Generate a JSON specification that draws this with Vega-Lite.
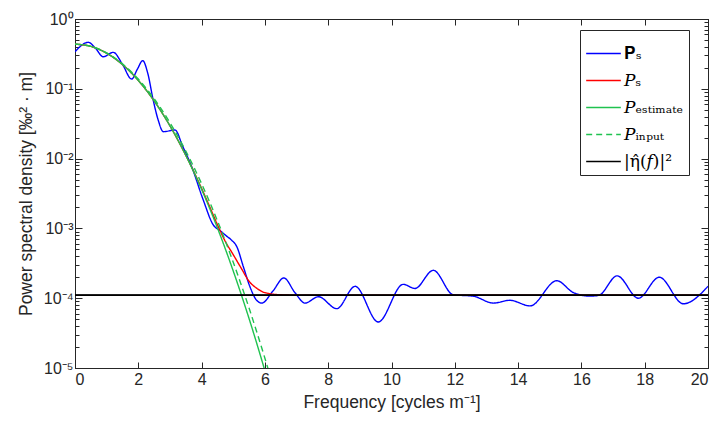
{
  "$schema": "https://vega.github.io/schema/vega-lite/v6.json",
  "autosize": {"type": "none"},
  "width": 633,
  "height": 349,
  "padding": {"left": 75, "top": 19, "right": 10, "bottom": 57},
  "config": {
    "view": {"stroke": "#262626", "strokeWidth": 1},
    "font": "Liberation Sans",
    "axis": {"labelFont": "Liberation Sans", "titleFont": "Liberation Sans", "labelColor": "#262626", "titleColor": "#262626", "domainColor": "#262626", "tickColor": "#262626", "grid": false, "titleFontWeight": "normal", "labelFontSize": 16, "titleFontSize": 17.5},
    "legend": {
      "title": null, "orient": "none", "legendX": 505, "legendY": 11,
      "symbolType": "stroke", "symbolSize": 1200, "symbolStrokeWidth": 1.5,
      "labelFont": "DejaVu Serif", "labelFontSize": 17, "labelColor": "#000000",
      "strokeColor": "#262626", "fillColor": "#FFFFFF", "padding": 5, "rowPadding": -8, "cornerRadius": 0, "labelOffset": 2
    }
  },
  "datasets": {
    "curves": [
      {"s": "𝐏ₛ", "f": 0.0, "p": 0.339},
      {"s": "𝐏ₛ", "f": 0.42, "p": 0.4634},
      {"s": "𝐏ₛ", "f": 0.65, "p": 0.38},
      {"s": "𝐏ₛ", "f": 0.89, "p": 0.288},
      {"s": "𝐏ₛ", "f": 1.21, "p": 0.333},
      {"s": "𝐏ₛ", "f": 1.5, "p": 0.224},
      {"s": "𝐏ₛ", "f": 1.79, "p": 0.138},
      {"s": "𝐏ₛ", "f": 1.97, "p": 0.191},
      {"s": "𝐏ₛ", "f": 2.14, "p": 0.253},
      {"s": "𝐏ₛ", "f": 2.3, "p": 0.166},
      {"s": "𝐏ₛ", "f": 2.47, "p": 0.0692},
      {"s": "𝐏ₛ", "f": 2.63, "p": 0.0355},
      {"s": "𝐏ₛ", "f": 2.79, "p": 0.0243},
      {"s": "𝐏ₛ", "f": 3.16, "p": 0.0257},
      {"s": "𝐏ₛ", "f": 3.4, "p": 0.0151},
      {"s": "𝐏ₛ", "f": 3.69, "p": 0.00759},
      {"s": "𝐏ₛ", "f": 4.05, "p": 0.00257},
      {"s": "𝐏ₛ", "f": 4.37, "p": 0.00112},
      {"s": "𝐏ₛ", "f": 4.58, "p": 0.000933},
      {"s": "𝐏ₛ", "f": 4.79, "p": 0.000776},
      {"s": "𝐏ₛ", "f": 4.95, "p": 0.000676},
      {"s": "𝐏ₛ", "f": 5.11, "p": 0.00055},
      {"s": "𝐏ₛ", "f": 5.32, "p": 0.000282},
      {"s": "𝐏ₛ", "f": 5.53, "p": 0.000145},
      {"s": "𝐏ₛ", "f": 5.74, "p": 0.0000933},
      {"s": "𝐏ₛ", "f": 5.9, "p": 0.0000851},
      {"s": "𝐏ₛ", "f": 6.25, "p": 0.000126},
      {"s": "𝐏ₛ", "f": 6.6, "p": 0.000195},
      {"s": "𝐏ₛ", "f": 6.95, "p": 0.00012},
      {"s": "𝐏ₛ", "f": 7.27, "p": 0.0000851},
      {"s": "𝐏ₛ", "f": 7.69, "p": 0.000105},
      {"s": "𝐏ₛ", "f": 8.27, "p": 0.0000708},
      {"s": "𝐏ₛ", "f": 8.85, "p": 0.000148},
      {"s": "𝐏ₛ", "f": 9.58, "p": 0.0000457},
      {"s": "𝐏ₛ", "f": 10.37, "p": 0.000158},
      {"s": "𝐏ₛ", "f": 10.74, "p": 0.000138},
      {"s": "𝐏ₛ", "f": 11.32, "p": 0.000251},
      {"s": "𝐏ₛ", "f": 11.95, "p": 0.000112},
      {"s": "𝐏ₛ", "f": 12.58, "p": 0.000107},
      {"s": "𝐏ₛ", "f": 13.22, "p": 0.0000851},
      {"s": "𝐏ₛ", "f": 13.74, "p": 0.0000933},
      {"s": "𝐏ₛ", "f": 14.38, "p": 0.0000776},
      {"s": "𝐏ₛ", "f": 15.22, "p": 0.000178},
      {"s": "𝐏ₛ", "f": 15.75, "p": 0.00012},
      {"s": "𝐏ₛ", "f": 16.27, "p": 0.000107},
      {"s": "𝐏ₛ", "f": 16.55, "p": 0.00011},
      {"s": "𝐏ₛ", "f": 17.13, "p": 0.000209},
      {"s": "𝐏ₛ", "f": 17.8, "p": 0.0001},
      {"s": "𝐏ₛ", "f": 18.46, "p": 0.0002},
      {"s": "𝐏ₛ", "f": 19.22, "p": 0.0000832},
      {"s": "𝐏ₛ", "f": 20.0, "p": 0.000148},

      {"s": "𝑃ₛ", "f": 0.0, "p": 0.4365},
      {"s": "𝑃ₛ", "f": 0.5, "p": 0.405},
      {"s": "𝑃ₛ", "f": 1.0, "p": 0.3236},
      {"s": "𝑃ₛ", "f": 1.5, "p": 0.2225},
      {"s": "𝑃ₛ", "f": 2.0, "p": 0.1318},
      {"s": "𝑃ₛ", "f": 2.5, "p": 0.0672},
      {"s": "𝑃ₛ", "f": 3.0, "p": 0.0295},
      {"s": "𝑃ₛ", "f": 3.5, "p": 0.01115},
      {"s": "𝑃ₛ", "f": 4.0, "p": 0.00374},
      {"s": "𝑃ₛ", "f": 4.25, "p": 0.00207},
      {"s": "𝑃ₛ", "f": 4.5, "p": 0.00113},
      {"s": "𝑃ₛ", "f": 4.75, "p": 0.00065},
      {"s": "𝑃ₛ", "f": 5.0, "p": 0.00042},
      {"s": "𝑃ₛ", "f": 5.25, "p": 0.00027},
      {"s": "𝑃ₛ", "f": 5.5, "p": 0.000175},
      {"s": "𝑃ₛ", "f": 5.75, "p": 0.000138},
      {"s": "𝑃ₛ", "f": 6.0, "p": 0.00012},
      {"s": "𝑃ₛ", "f": 6.5, "p": 0.000112},
      {"s": "𝑃ₛ", "f": 7.0, "p": 0.0001105},
      {"s": "𝑃ₛ", "f": 20.0, "p": 0.00011},

      {"s": "𝑃ₑₛₜᵢₘₐₜₑ", "f": 0.0, "p": 0.4365},
      {"s": "𝑃ₑₛₜᵢₘₐₜₑ", "f": 0.5, "p": 0.405},
      {"s": "𝑃ₑₛₜᵢₘₐₜₑ", "f": 1.0, "p": 0.3236},
      {"s": "𝑃ₑₛₜᵢₘₐₜₑ", "f": 1.5, "p": 0.2225},
      {"s": "𝑃ₑₛₜᵢₘₐₜₑ", "f": 2.0, "p": 0.1318},
      {"s": "𝑃ₑₛₜᵢₘₐₜₑ", "f": 2.5, "p": 0.0672},
      {"s": "𝑃ₑₛₜᵢₘₐₜₑ", "f": 3.0, "p": 0.0295},
      {"s": "𝑃ₑₛₜᵢₘₐₜₑ", "f": 3.5, "p": 0.01115},
      {"s": "𝑃ₑₛₜᵢₘₐₜₑ", "f": 4.0, "p": 0.00363},
      {"s": "𝑃ₑₛₜᵢₘₐₜₑ", "f": 4.5, "p": 0.001017},
      {"s": "𝑃ₑₛₜᵢₘₐₜₑ", "f": 5.0, "p": 0.000245},
      {"s": "𝑃ₑₛₜᵢₘₐₜₑ", "f": 5.5, "p": 0.000051},
      {"s": "𝑃ₑₛₜᵢₘₐₜₑ", "f": 6.0, "p": 0.00000912},
      {"s": "𝑃ₑₛₜᵢₘₐₜₑ", "f": 6.2, "p": 0.0000044},

      {"s": "𝑃ᵢₙₚᵤₜ", "f": 0.0, "p": 0.4365},
      {"s": "𝑃ᵢₙₚᵤₜ", "f": 0.5, "p": 0.406},
      {"s": "𝑃ᵢₙₚᵤₜ", "f": 1.0, "p": 0.327},
      {"s": "𝑃ᵢₙₚᵤₜ", "f": 1.5, "p": 0.2284},
      {"s": "𝑃ᵢₙₚᵤₜ", "f": 2.0, "p": 0.138},
      {"s": "𝑃ᵢₙₚᵤₜ", "f": 2.5, "p": 0.0722},
      {"s": "𝑃ᵢₙₚᵤₜ", "f": 3.0, "p": 0.0327},
      {"s": "𝑃ᵢₙₚᵤₜ", "f": 3.5, "p": 0.01284},
      {"s": "𝑃ᵢₙₚᵤₜ", "f": 4.0, "p": 0.004365},
      {"s": "𝑃ᵢₙₚᵤₜ", "f": 4.5, "p": 0.001284},
      {"s": "𝑃ᵢₙₚᵤₜ", "f": 5.0, "p": 0.000327},
      {"s": "𝑃ᵢₙₚᵤₜ", "f": 5.5, "p": 0.0000722},
      {"s": "𝑃ᵢₙₚᵤₜ", "f": 6.0, "p": 0.0000138},
      {"s": "𝑃ᵢₙₚᵤₜ", "f": 6.3, "p": 0.0000048},

      {"s": "|η̂(𝑓)|²", "f": 0.0, "p": 0.00011},
      {"s": "|η̂(𝑓)|²", "f": 20.0, "p": 0.00011}
    ]
  },
  "data": {"name": "curves"},
  "encoding": {
    "color": {
      "field": "s", "type": "nominal",
      "scale": {"domain": ["𝐏ₛ", "𝑃ₛ", "𝑃ₑₛₜᵢₘₐₜₑ", "𝑃ᵢₙₚᵤₜ", "|η̂(𝑓)|²"], "range": ["#0000FF", "#FF0000", "#1FC24F", "#1FC24F", "#000000"]},
      "legend": {"title": null}
    },
    "strokeDash": {
      "field": "s", "type": "nominal",
      "scale": {"domain": ["𝐏ₛ", "𝑃ₛ", "𝑃ₑₛₜᵢₘₐₜₑ", "𝑃ᵢₙₚᵤₜ", "|η̂(𝑓)|²"], "range": [[1, 0], [1, 0], [1, 0], [6, 4], [1, 0]]},
      "legend": {"title": null}
    },
    "strokeWidth": {
      "field": "s", "type": "nominal",
      "scale": {"domain": ["𝐏ₛ", "𝑃ₛ", "𝑃ₑₛₜᵢₘₐₜₑ", "𝑃ᵢₙₚᵤₜ", "|η̂(𝑓)|²"], "range": [1.4, 1.4, 1.4, 2.6, 1.4]},
      "legend": null
    }
  },
  "layer": [
    {
      "transform": [{"filter": "datum.s != '|η̂(𝑓)|²'"}],
      "mark": {"type": "line", "interpolate": "monotone", "clip": true},
      "encoding": {
        "x": {
          "field": "f", "type": "quantitative",
          "scale": {"domain": [0, 20], "nice": false},
          "axis": {"orient": "bottom", "values": [0, 2, 4, 6, 8, 10, 12, 14, 16, 18, 20], "tickSize": -6, "labelPadding": 9, "title": "Frequency [cycles m⁻¹]", "titlePadding": 6}
        },
        "y": {
          "field": "p", "type": "quantitative",
          "scale": {"type": "log", "domain": [0.00001, 1], "nice": false},
          "axis": {
            "orient": "left",
            "values": [0.00001, 0.0001, 0.001, 0.01, 0.1, 1],
            "labelExpr": "datum.value == 1 ? '10⁰' : datum.value == 0.1 ? '10⁻¹' : datum.value == 0.01 ? '10⁻²' : datum.value == 0.001 ? '10⁻³' : datum.value == 0.0001 ? '10⁻⁴' : datum.value == 0.00001 ? '10⁻⁵' : ''",
            "tickSize": -7, "labelPadding": 9,
            "title": "Power spectral density [‰² · m]", "titlePadding": 8
          }
        }
      }
    },
    {
      "transform": [{"filter": "datum.s == '|η̂(𝑓)|²'"}],
      "mark": {"type": "line", "interpolate": "linear", "clip": true},
      "encoding": {
        "x": {
          "field": "f", "type": "quantitative",
          "axis": {"orient": "top", "values": [0, 2, 4, 6, 8, 10, 12, 14, 16, 18, 20], "tickSize": -6, "labels": false, "title": null}
        },
        "y": {
          "field": "p", "type": "quantitative",
          "axis": {"orient": "right", "values": [0.00001, 0.0001, 0.001, 0.01, 0.1, 1], "tickSize": -7, "labels": false, "title": null}
        }
      }
    },
    {
      "transform": [{"filter": "datum.s == '|η̂(𝑓)|²'"}],
      "mark": {"type": "line", "interpolate": "linear", "clip": true},
      "encoding": {
        "x": {"field": "f", "type": "quantitative", "axis": null},
        "y": {
          "field": "p", "type": "quantitative",
          "axis": {"orient": "left", "domain": false, "values": [0.00002, 0.00003, 0.00004, 0.00005, 0.00006, 0.00007, 0.00008, 0.00009, 0.0002, 0.0003, 0.0004, 0.0005, 0.0006, 0.0007, 0.0008, 0.0009, 0.002, 0.003, 0.004, 0.005, 0.006, 0.007, 0.008, 0.009, 0.02, 0.03, 0.04, 0.05, 0.06, 0.07, 0.08, 0.09, 0.2, 0.3, 0.4, 0.5, 0.6, 0.7, 0.8, 0.9], "tickSize": -4, "labels": false, "title": null, "offset": 0}
        }
      }
    },
    {
      "transform": [{"filter": "datum.s == '|η̂(𝑓)|²'"}],
      "mark": {"type": "line", "interpolate": "linear", "clip": true},
      "encoding": {
        "x": {"field": "f", "type": "quantitative", "axis": null},
        "y": {
          "field": "p", "type": "quantitative",
          "axis": {"orient": "right", "domain": false, "values": [0.00002, 0.00003, 0.00004, 0.00005, 0.00006, 0.00007, 0.00008, 0.00009, 0.0002, 0.0003, 0.0004, 0.0005, 0.0006, 0.0007, 0.0008, 0.0009, 0.002, 0.003, 0.004, 0.005, 0.006, 0.007, 0.008, 0.009, 0.02, 0.03, 0.04, 0.05, 0.06, 0.07, 0.08, 0.09, 0.2, 0.3, 0.4, 0.5, 0.6, 0.7, 0.8, 0.9], "tickSize": -4, "labels": false, "title": null, "offset": 0}
        }
      }
    }
  ],
  "resolve": {"axis": {"x": "independent", "y": "independent"}}
}
